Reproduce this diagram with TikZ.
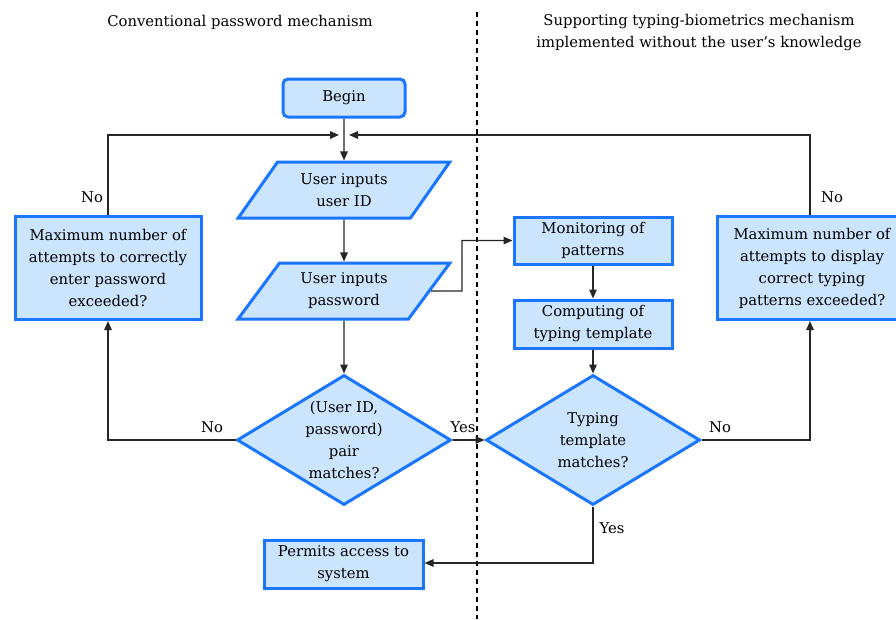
\documentclass[tikz,border=0pt]{standalone}
\usepackage{fontspec}
\setmainfont{DejaVu Serif}
\usetikzlibrary{shapes.geometric,arrows.meta}
\definecolor{bblue}{HTML}{1A75FF}
\definecolor{bfill}{HTML}{CCE5FF}
\begin{document}
\begin{tikzpicture}[x=1pt,y=-1pt,
  every node/.style={font=\fontsize{14.8}{22}\selectfont},
  box/.style={draw=bblue,fill=bfill,line width=3pt,align=center,inner sep=0pt,rectangle},
  io/.style={draw=bblue,fill=bfill,line width=3pt,align=center,inner sep=0pt,trapezium,
    trapezium left angle=52,trapezium right angle=128,trapezium stretches=true,
    minimum width=212pt,minimum height=56pt},
  dia/.style={draw=bblue,fill=bfill,line width=3pt,diamond,inner sep=0pt,
    minimum width=214pt,minimum height=130pt},
  txt/.style={align=center,inner sep=0pt},
  lbl/.style={inner sep=0pt},
  conn/.style={line width=1.3pt,draw=black!85,-{Triangle[length=9pt,width=7.5pt]}},
  plain/.style={line width=1.3pt,draw=black!85}]
\useasboundingbox (0,0) rectangle (896,619);
\clip (0,0) rectangle (896,619);
\fill[white] (0,0) rectangle (896,619);

% titles
\node[txt] (t1) at (240,22) {Conventional password mechanism};
\node[txt] (t2) at (699,33) {Supporting typing-biometrics mechanism\\implemented without the user’s knowledge};

% divider
\coordinate (dtop) at (477,12);
\coordinate (dbot) at (477,619);
\draw[line width=1.2pt,dash pattern=on 5pt off 4pt] (dtop) -- (dbot);

% nodes
\node[box,rounded corners=5pt,minimum width=122pt,minimum height=38pt] (begin) at (344,98) {Begin};
\node[io] (uid) at (344,190) {User inputs\\user ID};
\node[io] (pw) at (344,291) {User inputs\\password};
\node[dia] (d1) at (344,440) {};
\node[txt] (d1t) at (d1.center) {(User ID,\\password)\\pair\\matches?};
\node[box,minimum width=186pt,minimum height=103pt] (maxl) at (108,268) {Maximum number of\\attempts to correctly\\enter password\\exceeded?};
\node[box,minimum width=159pt,minimum height=48pt] (perm) at (343.5,564) {Permits access to\\system};
\node[box,minimum width=158pt,minimum height=47pt] (mon) at (593,240.5) {Monitoring of\\patterns};
\node[box,minimum width=158pt,minimum height=48pt] (comp) at (593,324) {Computing of\\typing template};
\node[dia] (d2) at (593,440) {};
\node[txt] (d2t) at (d2.center) {Typing\\template\\matches?};
\node[box,minimum width=190pt,minimum height=103pt] (maxr) at (812,268) {Maximum number of\\attempts to display\\correct typing\\patterns exceeded?};

% helper coordinates
\coordinate (j) at (344,135);
\coordinate (jl) at (339,135);
\coordinate (jr) at (349,135);
\coordinate (lt) at (108,135);
\coordinate (rt) at (810,135);
\coordinate (lb) at (108,440);
\coordinate (rb) at (810,440);
\coordinate (p1) at (462,291);
\coordinate (p2) at (462,240.5);
\coordinate (yb) at (593,563);

% connectors
\draw[conn] (begin.south) -- (uid.north);
\draw[conn] (uid.south) -- (pw.north);
\draw[conn] (pw.south) -- (d1.north);
\draw[conn] (d1.east) -- (d2.west);
\draw[conn] (d1.west) -- (lb) -- (maxl.south);
\draw[conn] (maxl.north) -- (lt) -- (jl);
\draw[conn] (d2.east) -- (rb) -- (maxr.south -| rb);
\draw[conn] (maxr.north -| rt) -- (rt) -- (jr);
\draw[conn] (pw.east) -- (p1) -- (p2) -- (mon.west);
\draw[conn] (mon.south) -- (comp.north);
\draw[conn] (comp.south) -- (d2.north);
\draw[conn] (d2.south) -- (yb) -- (perm.east |- yb);

% labels
\node[lbl] (no1) at (92,197) {No};
\node[lbl] (no2) at (832,197) {No};
\node[lbl] (no3) at (212,427) {No};
\node[lbl] (no4) at (720,427) {No};
\node[lbl] (yes1) at (463,427) {Yes};
\node[lbl] (yes2) at (612,528) {Yes};
\end{tikzpicture}
\end{document}
